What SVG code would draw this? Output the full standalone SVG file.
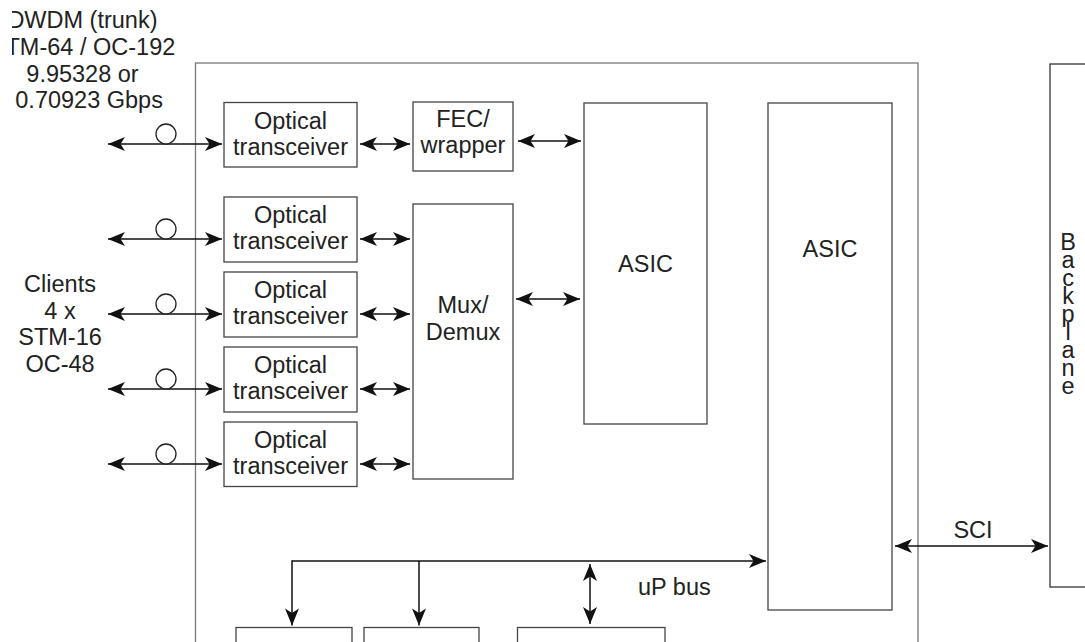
<svg xmlns="http://www.w3.org/2000/svg" width="1085" height="642" viewBox="0 0 1085 642">
<style>
.box{fill:#fff;stroke:#444;stroke-width:1.3}
.board{fill:none;stroke:#777;stroke-width:1.3}
.t{font-family:"Liberation Sans",Arial,sans-serif;font-size:23.5px;fill:#222;text-anchor:middle}
.ts{font-family:"Liberation Sans",Arial,sans-serif;font-size:23.5px;fill:#222;text-anchor:start}
.vt{font-family:"Liberation Sans",Arial,sans-serif;font-size:23.5px;fill:#222;text-anchor:start;writing-mode:vertical-rl;text-orientation:upright;letter-spacing:-7.95px}
.c{stroke:#111;stroke-width:1.5;fill:none}
.d{marker-start:url(#ah);marker-end:url(#ah)}
.s{marker-end:url(#ah)}
.fib{fill:#fff;stroke:#222;stroke-width:1.3}
</style>
<defs>
<marker id="ah" viewBox="-18 -8 19 16" refX="0" refY="0" markerWidth="19" markerHeight="16" markerUnits="userSpaceOnUse" orient="auto-start-reverse">
<path d="M0,0 L-17,-7 L-12.5,0 L-17,7 Z" fill="#111"/>
</marker>
<clipPath id="crop"><rect x="12" y="0" width="1073" height="642"/></clipPath>
</defs>

<g id="trunk-label" clip-path="url(#crop)">
<text class="ts" x="7.4" y="28.3">DWDM (trunk)</text>
<text class="ts" x="5.5" y="55">TM-64 / OC-192</text>
<text class="t" x="82.5" y="81.7">9.95328 or</text>
<text class="ts" x="15.3" y="108.3">0.70923 Gbps</text>
</g>

<g id="clients-label">
<text class="t" x="60" y="292">Clients</text>
<text class="t" x="60" y="318.7">4 x</text>
<text class="t" x="60" y="345.4">STM-16</text>
<text class="t" x="60" y="372">OC-48</text>
</g>

<g id="board"><rect class="board" x="195.5" y="63" width="722.5" height="620"/></g>

<g id="backplane">
<rect class="board" x="1050" y="64" width="60" height="523" style="stroke:#333"/>
<text class="vt" x="1068" y="228.7">Backplane</text>
</g>

<g id="trx1"><rect class="box" x="224" y="102.5" width="133" height="64.5"/><text class="t" x="290.5" y="129">Optical</text><text class="t" x="290.5" y="155">transceiver</text></g>
<g id="trx2"><rect class="box" x="224" y="197" width="133" height="65"/><text class="t" x="290.5" y="223">Optical</text><text class="t" x="290.5" y="249">transceiver</text></g>
<g id="trx3"><rect class="box" x="224" y="272" width="133" height="65"/><text class="t" x="290.5" y="298">Optical</text><text class="t" x="290.5" y="324">transceiver</text></g>
<g id="trx4"><rect class="box" x="224" y="347" width="133" height="65"/><text class="t" x="290.5" y="373">Optical</text><text class="t" x="290.5" y="399">transceiver</text></g>
<g id="trx5"><rect class="box" x="224" y="422" width="133" height="64.5"/><text class="t" x="290.5" y="448">Optical</text><text class="t" x="290.5" y="474">transceiver</text></g>

<g id="fec"><rect class="box" x="413" y="102" width="100" height="69"/><text class="t" x="463" y="127">FEC/</text><text class="t" x="463" y="153">wrapper</text></g>
<g id="mux"><rect class="box" x="413" y="204" width="100" height="275"/><text class="t" x="463" y="313">Mux/</text><text class="t" x="463" y="340">Demux</text></g>
<g id="asic1"><rect class="box" x="584" y="103" width="123" height="321"/><text class="t" x="645.5" y="272">ASIC</text></g>
<g id="asic2"><rect class="box" x="768" y="103" width="124" height="507"/><text class="t" x="830" y="257">ASIC</text></g>

<g id="bus-dev1"><rect class="box" x="236" y="627.5" width="116" height="40"/></g>
<g id="bus-dev2"><rect class="box" x="364" y="627.5" width="115" height="40"/></g>
<g id="bus-dev3"><rect class="box" x="517.5" y="627.5" width="147.5" height="40"/></g>

<g id="labels">
<text class="ts" x="638" y="595">uP bus</text>
<text class="t" x="973" y="538">SCI</text>
</g>

<g id="connectors">
<line class="c d" x1="108" y1="144" x2="222" y2="144"/>
<line class="c d" x1="108" y1="239" x2="222" y2="239"/>
<line class="c d" x1="108" y1="314" x2="222" y2="314"/>
<line class="c d" x1="108" y1="389" x2="222" y2="389"/>
<line class="c d" x1="108" y1="464" x2="222" y2="464"/>
<circle class="fib" cx="166" cy="134" r="10"/>
<circle class="fib" cx="166" cy="229" r="10"/>
<circle class="fib" cx="166" cy="304" r="10"/>
<circle class="fib" cx="166" cy="379" r="10"/>
<circle class="fib" cx="166" cy="454" r="10"/>
<line class="c d" x1="360" y1="144" x2="410" y2="144"/>
<line class="c d" x1="360" y1="239" x2="410" y2="239"/>
<line class="c d" x1="360" y1="314" x2="410" y2="314"/>
<line class="c d" x1="360" y1="389" x2="410" y2="389"/>
<line class="c d" x1="360" y1="464" x2="410" y2="464"/>
<line class="c d" x1="518" y1="141" x2="581" y2="141"/>
<line class="c d" x1="516" y1="299" x2="580" y2="299"/>
<line class="c s" x1="292" y1="561" x2="766" y2="561"/>
<line class="c s" x1="292" y1="560.3" x2="292" y2="625.5"/>
<line class="c s" x1="419" y1="561" x2="419" y2="625.5"/>
<line class="c d" x1="590" y1="564" x2="590" y2="624"/>
<line class="c d" x1="895" y1="546" x2="1048" y2="546"/>
</g>
</svg>
